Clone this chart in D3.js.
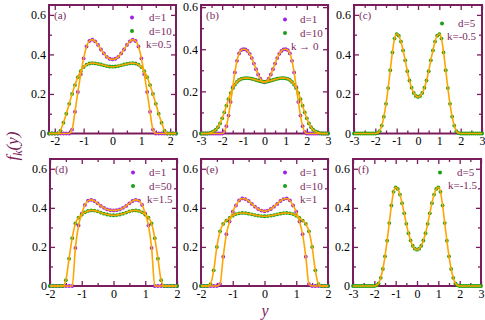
<!DOCTYPE html>
<html>
<head>
<meta charset="utf-8">
<script src="https://cdn.jsdelivr.net/npm/d3@7"></script>
<style>
  body { margin: 0; background: #fff; }
  svg { display: block; }
  svg text { font-family: "Liberation Serif", "Times New Roman", serif; }
</style>
</head>
<body>
<div id="chart"></div>
<script>
// sample grids (dots are evenly spaced along y)
const gridA = d3.range(-22, 23).map(i => i / 10);   // -2.2 .. 2.2
const gridWide = d3.range(-30, 31).map(i => i / 10); // -3 .. 3
const gridNarrow = d3.range(-20, 21).map(i => i / 10); // -2 .. 2

// (a) k=0.5
const aD1 = [0,0,0,0,0,0,0,0,0.02,0.11,0.21,0.30,0.38,0.44,0.468,0.475,0.466,0.448,0.425,0.405,0.388,0.378,
  0.375,
  0.378,0.388,0.405,0.425,0.448,0.466,0.475,0.468,0.44,0.38,0.30,0.21,0.11,0.02,0,0,0,0,0,0,0,0];
const aD10 = [0,0,0,0,0.015,0.055,0.10,0.15,0.20,0.245,0.285,0.315,0.336,0.348,0.354,0.356,0.355,0.352,0.349,0.345,0.341,0.339,
  0.338,
  0.339,0.341,0.345,0.349,0.352,0.355,0.356,0.354,0.348,0.336,0.315,0.285,0.245,0.20,0.15,0.10,0.055,0.015,0,0,0,0];

// (b) k -> 0
const bD1 = [0,0,0,0,0,0,0,0,0,0,0,0.008,0.035,0.085,0.15,0.22,0.29,0.345,0.38,0.396,0.40,0.399,0.392,0.378,0.358,0.332,0.305,0.28,0.26,0.247,
  0.243,
  0.247,0.26,0.28,0.305,0.332,0.358,0.378,0.392,0.399,0.40,0.396,0.38,0.345,0.29,0.22,0.15,0.085,0.035,0.008,0,0,0,0,0,0,0,0,0,0,0];
const bD10 = [0,0,0,0,0.002,0.005,0.01,0.018,0.03,0.048,0.072,0.10,0.132,0.163,0.192,0.215,0.232,0.245,0.254,0.259,0.262,0.263,0.263,0.262,0.26,0.257,0.254,0.251,0.248,0.246,
  0.245,
  0.246,0.248,0.251,0.254,0.257,0.26,0.262,0.263,0.263,0.262,0.259,0.254,0.245,0.232,0.215,0.192,0.163,0.132,0.10,0.072,0.048,0.03,0.018,0.01,0.005,0.002,0,0,0,0];

// (c) k=-0.5
const cD5 = [0,0,0,0,0,0,0,0,0,0,0,0.002,0.012,0.04,0.085,0.15,0.23,0.32,0.41,0.48,0.503,0.495,0.465,0.42,0.37,0.315,0.268,0.232,0.205,0.19,
  0.185,
  0.19,0.205,0.232,0.268,0.315,0.37,0.42,0.465,0.495,0.503,0.48,0.41,0.32,0.23,0.15,0.085,0.04,0.012,0.002,0,0,0,0,0,0,0,0,0,0,0];

// (d) k=1.5
const dD1 = [0,0,0,0,0,0,0,0,0.195,0.31,0.37,0.415,0.437,0.441,0.435,0.423,0.41,0.40,0.392,0.388,
  0.387,
  0.388,0.392,0.40,0.41,0.423,0.435,0.441,0.437,0.415,0.37,0.31,0.195,0,0,0,0,0,0,0,0];
const dD50 = [0,0,0,0,0,0.03,0.14,0.245,0.32,0.35,0.365,0.377,0.384,0.387,0.386,0.382,0.376,0.37,0.366,0.363,
  0.362,
  0.363,0.366,0.37,0.376,0.382,0.386,0.387,0.384,0.377,0.365,0.35,0.32,0.245,0.14,0.03,0,0,0,0,0];

// (e) k=1
const eD1 = [0,0,0,0,0,0,0.01,0.15,0.265,0.33,0.38,0.412,0.438,0.448,0.445,0.435,0.42,0.406,0.394,0.386,
  0.383,
  0.386,0.394,0.406,0.42,0.435,0.445,0.448,0.438,0.412,0.38,0.33,0.265,0.15,0.01,0,0,0,0,0,0];
const eD10 = [0,0,0,0.01,0.08,0.2,0.28,0.318,0.335,0.348,0.36,0.368,0.372,0.374,0.373,0.37,0.367,0.363,0.36,0.358,
  0.357,
  0.358,0.36,0.363,0.367,0.37,0.373,0.374,0.372,0.368,0.36,0.348,0.335,0.318,0.28,0.2,0.08,0.01,0,0,0];

// (f) k=-1.5
const fD5 = [0,0,0,0,0,0,0,0,0,0,0,0.003,0.013,0.042,0.087,0.152,0.232,0.322,0.412,0.482,0.505,0.497,0.468,0.424,0.372,0.318,0.27,0.233,0.206,0.191,
  0.186,
  0.191,0.206,0.233,0.27,0.318,0.372,0.424,0.468,0.497,0.505,0.482,0.412,0.322,0.232,0.152,0.087,0.042,0.013,0.003,0,0,0,0,0,0,0,0,0,0,0];

// tick labels
const xTicksA = [-2, -1, 0, 1, 2];
const xTicksWide = [-3, -2, -1, 0, 1, 2, 3];
const xTicksNarrow = [-2, -1, 0, 1, 2];
const yTicks = [0, 0.2, 0.4, 0.6];
const yMinor = [0.1, 0.3, 0.5];

const purple = '#a020e8', green = '#18a018', orange = '#ffa500';
const frameColor = '#7a1d5c', legendColor = '#7a2a60';
const serif = 'Liberation Serif, Times New Roman, serif';

// ly: baseline of first legend row below frame top; dotDx/textDx: offsets from right edge
const panels = [
  { tag: '(a)', left: 49, right: 176, top: 5, bottom: 133.5, xd: [-2.2, 2.2], yd: [0, 0.65], xt: xTicksA, grid: gridA,
    series: [{ v: aD1, c: purple, name: 'd=1' }, { v: aD10, c: green, name: 'd=10' }], k: 'k=0.5', kx: 146,
    ly: 16, dotDx: 44, textDx: 27 },
  { tag: '(b)', left: 201, right: 328, top: 5, bottom: 133.5, xd: [-3, 3], yd: [0, 0.61], xt: xTicksWide, grid: gridWide,
    series: [{ v: bD1, c: purple, name: 'd=1' }, { v: bD10, c: green, name: 'd=10' }], k: 'k \u2192 0', kx: 291,
    ly: 18, dotDx: 43, textDx: 28 },
  { tag: '(c)', left: 354, right: 482, top: 5, bottom: 133.5, xd: [-3, 3], yd: [0, 0.65], xt: xTicksWide, grid: gridWide,
    series: [{ v: cD5, c: green, name: 'd=5' }], k: 'k=-0.5', kx: 447,
    ly: 22, dotDx: 40, textDx: 24 },
  { tag: '(d)', left: 50, right: 177, top: 159, bottom: 286, xd: [-2, 2], yd: [0, 0.65], xt: xTicksNarrow, grid: gridNarrow,
    series: [{ v: dD1, c: purple, name: 'd=1' }, { v: dD50, c: green, name: 'd=50' }], k: 'k=1.5', kx: 147,
    ly: 17, dotDx: 44, textDx: 28 },
  { tag: '(e)', left: 201, right: 328, top: 159, bottom: 286, xd: [-2, 2], yd: [0, 0.65], xt: xTicksNarrow, grid: gridNarrow,
    series: [{ v: eD1, c: purple, name: 'd=1' }, { v: eD10, c: green, name: 'd=10' }], k: 'k=1', kx: 300,
    ly: 17, dotDx: 43, textDx: 28 },
  { tag: '(f)', left: 353, right: 481, top: 159, bottom: 286, xd: [-3, 3], yd: [0, 0.65], xt: xTicksWide, grid: gridWide,
    series: [{ v: fD5, c: green, name: 'd=5' }], k: 'k=-1.5', kx: 448,
    ly: 17, dotDx: 41, textDx: 24 }
];

const svg = d3.select('#chart').append('svg')
  .attr('width', 485).attr('height', 320);

panels.forEach(p => {
  const x = d3.scaleLinear().domain(p.xd).range([p.left, p.right]);
  const y = d3.scaleLinear().domain(p.yd).range([p.bottom, p.top]);
  const g = svg.append('g');

  // frame
  g.append('rect')
    .attr('x', p.left).attr('y', p.top)
    .attr('width', p.right - p.left).attr('height', p.bottom - p.top)
    .attr('fill', 'none').attr('stroke', frameColor).attr('stroke-width', 2);

  // minor x ticks at half units
  const xMinor = p.xt.slice(0, -1).map(t => t + 0.5);
  const yMin = yMinor.filter(t => t < p.yd[1]);

  // ticks on all four sides, pointing inward
  const axes = [
    [d3.axisBottom(x).tickValues(p.xt).tickSize(-5), `translate(0,${p.bottom})`, true],
    [d3.axisBottom(x).tickValues(xMinor).tickSize(-3), `translate(0,${p.bottom})`, false],
    [d3.axisTop(x).tickValues(p.xt).tickSize(-5), `translate(0,${p.top})`, false],
    [d3.axisTop(x).tickValues(xMinor).tickSize(-3), `translate(0,${p.top})`, false],
    [d3.axisLeft(y).tickValues(yTicks).tickSize(-5), `translate(${p.left},0)`, true],
    [d3.axisLeft(y).tickValues(yMin).tickSize(-3), `translate(${p.left},0)`, false],
    [d3.axisRight(y).tickValues(yTicks).tickSize(-5), `translate(${p.right},0)`, false],
    [d3.axisRight(y).tickValues(yMin).tickSize(-3), `translate(${p.right},0)`, false]
  ];
  axes.forEach(([ax, tr, labels]) => {
    if (labels) ax.tickFormat(d => d === 0 ? '0' : (Number.isInteger(d) ? String(d) : d.toFixed(1)));
    else ax.tickFormat('');
    const a = g.append('g').attr('transform', tr).call(ax.tickPadding(3));
    a.attr('font-family', serif);
    a.select('.domain').remove();
    a.selectAll('line').attr('stroke', frameColor).attr('stroke-width', 1.3);
    a.selectAll('text').attr('font-family', serif).attr('font-size', 12).attr('fill', '#000');
  });

  // data: dots, then orange curve on top
  p.series.forEach(s => {
    const pts = p.grid.map((gx, i) => [gx, s.v[i]]);
    g.append('g').selectAll('circle').data(pts).join('circle')
      .attr('cx', d => x(d[0])).attr('cy', d => y(d[1]))
      .attr('r', 1.9).attr('fill', s.c);
  });
  p.series.forEach(s => {
    const pts = p.grid.map((gx, i) => [gx, s.v[i]]);
    g.append('path').datum(pts)
      .attr('d', d3.line().x(d => x(d[0])).y(d => y(d[1])).curve(d3.curveMonotoneX))
      .attr('fill', 'none').attr('stroke', orange).attr('stroke-width', 1.6);
  });

  // panel tag
  g.append('text').attr('x', p.left + 5).attr('y', p.top + 14)
    .attr('font-family', serif).attr('font-size', 11).attr('fill', legendColor).text(p.tag);

  // legend
  p.series.forEach((s, i) => {
    const ly = p.top + p.ly + i * 13.5;
    g.append('circle').attr('cx', p.right - p.dotDx).attr('cy', ly - 3.5).attr('r', 2).attr('fill', s.c);
    g.append('text').attr('x', p.right - p.textDx).attr('y', ly)
      .attr('font-family', serif).attr('font-size', 11).attr('fill', legendColor).text(s.name);
  });
  const ky = p.top + p.ly + p.series.length * 13.5 - 0.5;
  g.append('text').attr('x', p.kx).attr('y', ky)
    .attr('font-family', serif).attr('font-size', 11).attr('fill', legendColor).text(p.k);
});

// axis titles
const yl = svg.append('text')
  .attr('transform', 'translate(18,146) rotate(-90)')
  .attr('text-anchor', 'middle').attr('font-family', serif)
  .attr('font-size', 17).attr('font-style', 'italic').attr('fill', frameColor);
yl.append('tspan').text('f');
yl.append('tspan').attr('font-size', 12).attr('dy', 4).text('k');
yl.append('tspan').attr('dy', -4).text('(y)');

svg.append('text').attr('x', 265).attr('y', 316)
  .attr('text-anchor', 'middle').attr('font-family', serif)
  .attr('font-size', 16).attr('font-style', 'italic').attr('fill', frameColor)
  .text('y');
</script>
</body>
</html>
